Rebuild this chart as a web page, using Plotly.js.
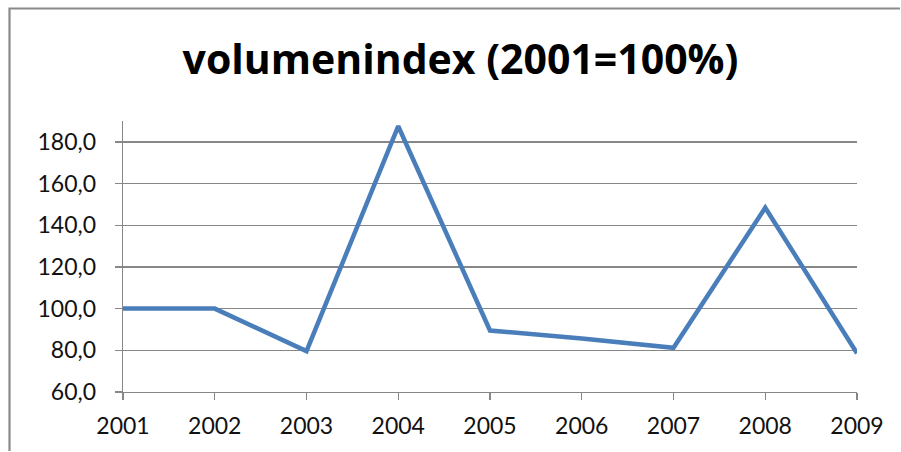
<!DOCTYPE html>
<html>
<head>
<meta charset="utf-8">
<script src="https://cdn.plot.ly/plotly-3.0.1.min.js"></script>
<style>
html,body{margin:0;padding:0;background:#fff;overflow:hidden;}
#chart{width:901px;height:452px;}
</style>
</head>
<body>
<div id="chart"></div>
<script>
const years = ["2001","2002","2003","2004","2005","2006","2007","2008","2009"];
const volumeIndex = [100.0, 100.0, 79.6, 187.5, 89.5, 85.7, 81.2, 148.4, 78.6];
const yTicks = [60, 80, 100, 120, 140, 160, 180];
const chartTitle = "volumenindex (2001=100%)";

const W = 901, H = 452;
const L = 123, R = 44, T = 121, B = 60;
const pw = W - L - R, ph = H - T - B;
const px = v => ((v - L) / pw).toFixed(5);
const py = v => ((H - B - v) / ph).toFixed(5);

const trace = {
  x: years,
  y: volumeIndex,
  type: "scatter",
  mode: "lines",
  line: {color: "#4a7ebb", width: 4.5},
  hoverinfo: "x+y"
};

const axisColor = "#878787";
const frameColor = "#8a8a8a";
const framePath = "M " + px(9.5) + "," + py(H - 1) +
                  " L " + px(9.5) + "," + py(8.5) +
                  " L " + px(W - 1) + "," + py(8.5);
const layout = {
  width: W, height: H,
  margin: {l: L, r: R, t: T, b: B, pad: 0},
  paper_bgcolor: "#ffffff",
  plot_bgcolor: "#ffffff",
  separators: ",.",
  showlegend: false,
  font: {family: "Lato, 'Open Sans', sans-serif", color: "#111"},
  title: {
    text: "<b>" + chartTitle + "</b>",
    font: {family: "'Open Sans', Lato, sans-serif", size: 41, color: "#000"},
    x: 460.5 / W, xref: "container", xanchor: "center",
    y: 1 - 60 / H, yref: "container", yanchor: "middle"
  },
  xaxis: {
    type: "category",
    range: [0, years.length - 1],
    showgrid: false,
    showline: true, linecolor: axisColor, linewidth: 1.3,
    ticks: "outside", ticklen: 7, tickcolor: axisColor, tickwidth: 1.3,
    tickfont: {size: 23, color: "#111"},
    ticklabelstandoff: 6,
    zeroline: false, fixedrange: true
  },
  yaxis: {
    range: [60, 190],
    tickvals: yTicks,
    tickformat: ".1f",
    showgrid: true, gridcolor: axisColor, gridwidth: 1.3,
    showline: true, linecolor: axisColor, linewidth: 1.3,
    ticks: "outside", ticklen: 7, tickcolor: axisColor, tickwidth: 1.3,
    tickfont: {size: 23, color: "#111"},
    ticklabelstandoff: 14,
    zeroline: false, fixedrange: true
  },
  shapes: [
    {type: "path", xref: "paper", yref: "paper", layer: "above",
     path: framePath, fillcolor: "rgba(0,0,0,0)",
     line: {color: frameColor, width: 2.2}}
  ]
};

Plotly.newPlot("chart", [trace], layout, {displayModeBar: false, staticPlot: true});
</script>
</body>
</html>
